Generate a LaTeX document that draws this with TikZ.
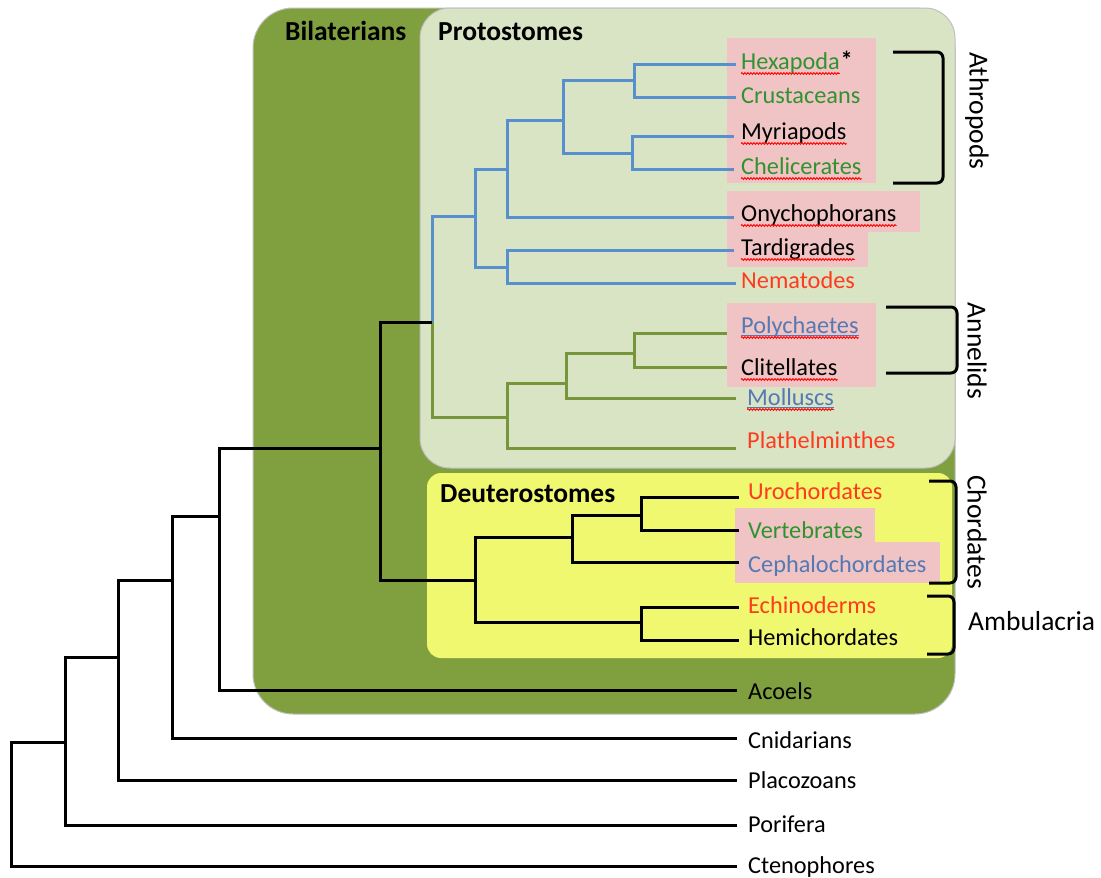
\documentclass[tikz,border=0pt]{standalone}
\usepackage{fontspec}
\setmainfont{Carlito}
\usetikzlibrary{decorations.pathmorphing,calc}
\definecolor{bilgreen}{RGB}{128,160,64}
\definecolor{protbg}{RGB}{217,228,197}
\definecolor{deutbg}{RGB}{240,248,112}
\definecolor{pinkbg}{RGB}{240,196,196}
\definecolor{bluebr}{RGB}{88,143,205}
\definecolor{greenbr}{RGB}{119,150,60}
\definecolor{labgreen}{RGB}{47,147,47}
\definecolor{labred}{RGB}{255,59,31}
\definecolor{labblue}{RGB}{85,121,181}
\newcommand\wavyunder[1]{\draw[squig] ($(#1.base west)+(0,4.5)$) -- ($(#1.base east)+(0,4.5)$);}
\begin{document}
\begin{tikzpicture}[x=1pt,y=-1pt,
  branch/.style={line width=3pt, line join=miter},
  bbranch/.style={branch, bluebr},
  gbranch/.style={branch, greenbr},
  kbranch/.style={branch, black},
  lab/.style={anchor=base west, inner sep=0pt, font=\fontsize{24.3}{29}\selectfont},
  ttl/.style={anchor=base west, inner sep=0pt, font=\fontsize{27.5}{32}\selectfont\bfseries},
  grp/.style={inner sep=0pt, font=\fontsize{27.5}{32}\selectfont},
  bracket/.style={line width=3pt, rounded corners=6pt},
  pinkbox/.style={fill=pinkbg},
  squig/.style={red, line width=0.9pt, decorate, decoration={snake, segment length=3pt, amplitude=0.9pt}},
]
\useasboundingbox (0,0) rectangle (1101,878);

% group boxes
\draw[fill=bilgreen, draw=black!25, line width=1pt, rounded corners=40pt] (253,8) rectangle (955,714);
\draw[fill=protbg, draw=black!25, line width=1pt, rounded corners=30pt] (420,8) rectangle (955,468);
\fill[deutbg, rounded corners=14pt] (427,473) rectangle (952,658);

% pink highlight boxes
\fill[pinkbox] (727,38) rectangle (876,183);
\fill[pinkbox] (727,191) rectangle (920,232);
\fill[pinkbox] (727,232) rectangle (868,267);
\fill[pinkbox] (727,303) rectangle (876,387);
\fill[pinkbox] (735,508) rectangle (875,542);
\fill[pinkbox] (735,542) rectangle (940,583);

% leaf ends
\coordinate (eHex) at (736,64);
\coordinate (eCru) at (736,97);
\coordinate (eMyr) at (734,136);
\coordinate (eChe) at (734,169);
\coordinate (eOny) at (734,217);
\coordinate (eTar) at (734,250);
\coordinate (eNem) at (736,283);
\coordinate (ePol) at (727,333);
\coordinate (eCli) at (727,367);
\coordinate (eMol) at (736,398);
\coordinate (ePla) at (736,448);
\coordinate (eUro) at (739,497);
\coordinate (eVer) at (739,530);
\coordinate (eCep) at (739,562);
\coordinate (eEch) at (739,607);
\coordinate (eHem) at (739,640);
\coordinate (eAco) at (737,690);
\coordinate (eCni) at (737,738);
\coordinate (ePlc) at (737,780);
\coordinate (ePor) at (737,825);
\coordinate (eCte) at (737,866);

% internal nodes
\coordinate (nHC) at (634,80);
\coordinate (nMC) at (632,153);
\coordinate (nArt) at (563,120);
\coordinate (nPan) at (507,169);
\coordinate (nTN) at (507,267);
\coordinate (nEcd) at (475,216);
\coordinate (nAnn) at (634,353);
\coordinate (nAM) at (566,383);
\coordinate (nLop) at (507,417);
\coordinate (nPro) at (432,322);
\coordinate (nUV) at (641,515);
\coordinate (nCho) at (572,537);
\coordinate (nAmb) at (641,622);
\coordinate (nDeu) at (475,580);
\coordinate (nBil) at (380,448);
\coordinate (nN1) at (219,516);
\coordinate (nN2) at (172,580);
\coordinate (nN3) at (118,657);
\coordinate (nN4) at (65,742);
\coordinate (nRoot) at (11,800);

% branches
\foreach \p/\c in {nHC/eHex,nHC/eCru,nMC/eMyr,nMC/eChe,nArt/nHC,nArt/nMC,nPan/nArt,nPan/eOny,nTN/eTar,nTN/eNem,nEcd/nPan,nEcd/nTN,nPro/nEcd}
  \draw[bbranch] (\p) |- (\c);
\foreach \p/\c in {nAnn/ePol,nAnn/eCli,nAM/nAnn,nAM/eMol,nLop/nAM,nLop/ePla,nPro/nLop}
  \draw[gbranch] (\p) |- (\c);
\foreach \p/\c in {nUV/eUro,nUV/eVer,nCho/nUV,nCho/eCep,nAmb/eEch,nAmb/eHem,nDeu/nCho,nDeu/nAmb,nBil/nPro,nBil/nDeu,nN1/nBil,nN1/eAco,nN2/nN1,nN2/eCni,nN3/nN2,nN3/ePlc,nN4/nN3,nN4/ePor,nRoot/nN4,nRoot/eCte}
  \draw[kbranch] (\p) |- (\c);

% titles
\node[ttl] (tBil) at (285,40) {Bilaterians};
\node[ttl] (tPro) at (438,40) {Protostomes};
\node[ttl] (tDeu) at (440,502) {Deuterostomes};

% leaf labels
\node[lab, text=labgreen] (lHex) at (741,69) {Hexapoda};
\node[lab, anchor=base west, font=\fontsize{24.3}{29}\selectfont\bfseries] (lHexStar) at ($(lHex.base east)+(0.5,-1)$) {*};
\node[lab, text=labgreen] (lCru) at (741,103) {Crustaceans};
\node[lab] (lMyr) at (741,139) {Myriapods};
\node[lab, text=labgreen] (lChe) at (741,174) {Chelicerates};
\node[lab] (lOny) at (741,221) {Onychophorans};
\node[lab] (lTar) at (741,255) {Tardigrades};
\node[lab, text=labred] (lNem) at (741,288) {Nematodes};
\node[lab, text=labblue] (lPol) at (741,333) {Polychaetes};
\node[lab] (lCli) at (741,375) {Clitellates};
\node[lab, text=labblue] (lMol) at (747,405) {Molluscs};
\node[lab, text=labred] (lPla) at (747,448) {Plathelminthes};
\node[lab, text=labred] (lUro) at (748,499) {Urochordates};
\node[lab, text=labgreen] (lVer) at (748,538) {Vertebrates};
\node[lab, text=labblue] (lCep) at (748,572) {Cephalochordates};
\node[lab, text=labred] (lEch) at (748,613) {Echinoderms};
\node[lab] (lHem) at (748,645) {Hemichordates};
\node[lab] (lAco) at (748,699) {Acoels};
\node[lab] (lCni) at (748,748) {Cnidarians};
\node[lab] (lPlc) at (748,788) {Placozoans};
\node[lab] (lPor) at (748,832) {Porifera};
\node[lab] (lCte) at (748,873) {Ctenophores};

% underlines
\draw[labblue, line width=1pt] ($(lPol.base west)+(0,2.5)$) -- ($(lPol.base east)+(0,2.5)$);
\draw[labblue, line width=1pt] ($(lMol.base west)+(0,2.5)$) -- ($(lMol.base east)+(0,2.5)$);
\wavyunder{lHex}
\wavyunder{lMyr}
\wavyunder{lChe}
\wavyunder{lOny}
\wavyunder{lTar}
\wavyunder{lPol}
\wavyunder{lCli}
\wavyunder{lMol}

% brackets
\draw[bracket] (893,52) -- (943,52) -- (943,183) -- (893,183);
\draw[bracket] (886,307) -- (957,307) -- (957,373) -- (886,373);
\draw[bracket] (929,481) -- (956,481) -- (956,583) -- (929,583);
\draw[bracket] (927,596) -- (954,596) -- (954,654) -- (927,654);

% group labels
\node[grp, rotate=-90] (gArt) at (977,111) {Athropods};
\node[grp, rotate=-90] (gAnn) at (977,351) {Annelids};
\node[grp, rotate=-90] (gCho) at (977,532) {Chordates};
\node[grp, anchor=base west] (gAmb) at (968,630) {Ambulacria};
\end{tikzpicture}
\end{document}
